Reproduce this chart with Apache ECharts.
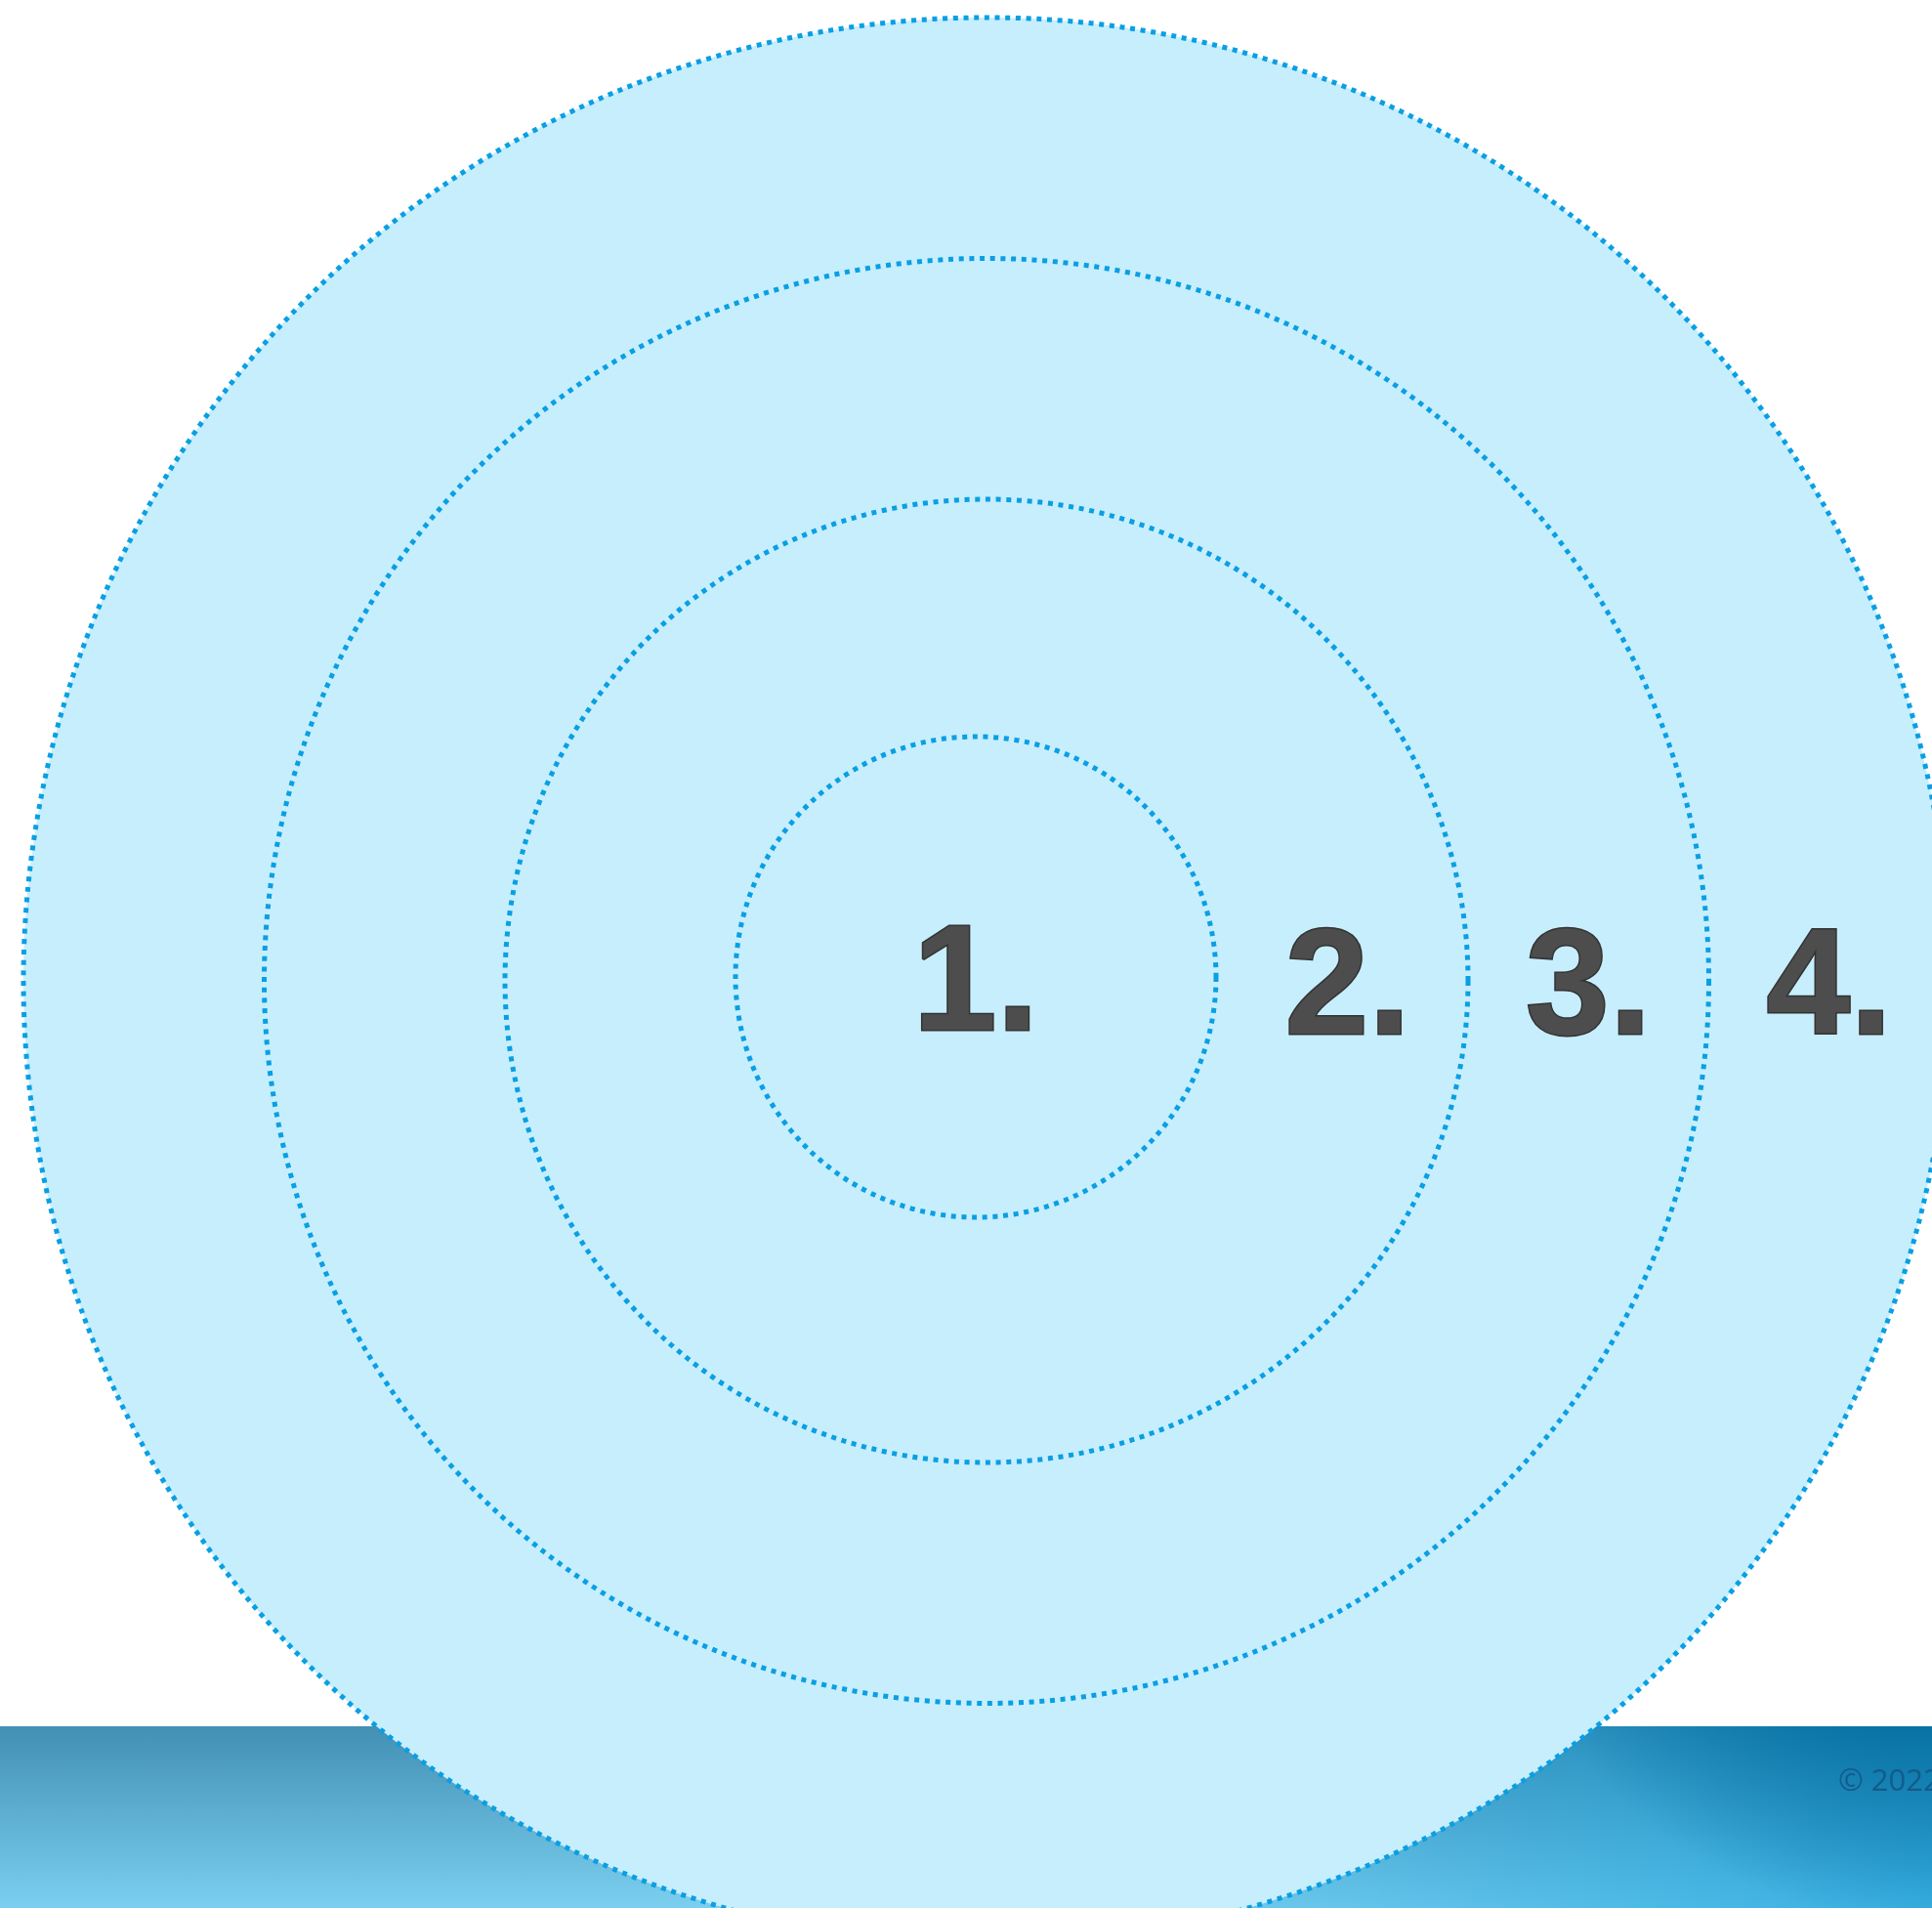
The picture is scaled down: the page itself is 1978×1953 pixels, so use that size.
<!DOCTYPE html>
<html lang="en">
  <head>
    <meta charset="UTF-8" />
    <title>Rings</title>
    <script src="https://cdn.jsdelivr.net/npm/echarts@6/dist/echarts.min.js"></script>
    <style>
      html, body { margin: 0; padding: 0; background: #fff; }
    </style>
  </head>
  <body>
    <div id="chart" style="width: 1978px; height: 1953px"></div>
    <script>
      // ring boundaries (radius units) and the step labels
      const rings = [1, 2, 3, 4];
      const labels = ["1.", "2.", "3.", "4."];
      const labelRadius = [0, 1.5, 2.5, 3.5];
      const copyright = "© 2022";

      const chart = echarts.init(document.getElementById("chart"));

      const dotColor = "#0a9fe2";
      const dotLine = {
        color: dotColor,
        width: 5,
        type: [5, 5.7],
        cap: "butt",
      };

      const hiddenAxis = {
        type: "value",
        min: 0,
        interval: 1,
        axisLine: { show: false },
        axisTick: { show: false },
        axisLabel: { show: false },
      };

      const labelStyle = {
        show: true,
        position: "inside",
        formatter: (p) => p.name,
        fontFamily: "Liberation Sans, sans-serif",
        fontWeight: "bold",
        fontSize: 154,
        color: "#4d4d4d",
        textBorderColor: "#333333",
        textBorderWidth: 3,
        offset: [0, 12],
      };

      // scatter defaults to opacity 0.8, which the labels inherit
      const hiddenPoint = { color: "rgba(0,0,0,0)", opacity: 1 };

      // outer rings: the first ring is drawn by its own (slightly offset) polar
      const outerColors = [0].concat(rings).map((r) =>
        r <= rings[0] ? "rgba(0,0,0,0)" : dotColor
      );

      const band = { x: 0, y: 1767, width: 1978, height: 186 };

      const option = {
        animation: false,
        graphic: [
          {
            type: "rect",
            z: -10,
            shape: band,
            style: {
              fill: new echarts.graphic.LinearGradient(0, 0, 0, 1, [
                { offset: 0, color: "#4290b4" },
                { offset: 1, color: "#7bcfef" },
              ]),
            },
          },
          {
            type: "rect",
            z: -9,
            shape: band,
            style: {
              fill: new echarts.graphic.LinearGradient(0.55, 0, 1, 0, [
                { offset: 0, color: "rgba(0,150,215,0)" },
                { offset: 1, color: "rgba(0,150,215,0.55)" },
              ]),
            },
          },
          {
            type: "rect",
            z: -8,
            shape: band,
            style: {
              fill: new echarts.graphic.RadialGradient(
                1978,
                1500,
                470,
                [
                  { offset: 0.45, color: "rgba(0,100,150,0.9)" },
                  { offset: 1, color: "rgba(0,100,150,0)" },
                ],
                true
              ),
            },
          },
          {
            type: "text",
            z: 100,
            x: 1882,
            y: 1840,
            style: {
              text: copyright,
              fontFamily: "Open Sans",
              fontSize: 31,
              fill: "rgba(20,85,130,0.85)",
              textVerticalAlign: "bottom",
            },
          },
        ],
        polar: [
          { center: [1010, 1004], radius: 986 },
          { center: [999, 1000], radius: 246 },
          { center: [1010, 1004], radius: 986 },
        ],
        angleAxis: [0, 1, 2].map((i) => ({
          polarIndex: i,
          type: "value",
          min: 0,
          max: 360,
          startAngle: 0,
          show: false,
        })),
        radiusAxis: [
          {
            ...hiddenAxis,
            polarIndex: 0,
            max: rings[rings.length - 1],
            z: 3,
            splitLine: {
              show: true,
              lineStyle: { ...dotLine, color: outerColors },
            },
            splitArea: { show: false },
          },
          {
            ...hiddenAxis,
            polarIndex: 1,
            max: rings[0],
            z: 3,
            splitLine: { show: true, lineStyle: dotLine },
            splitArea: { show: false },
          },
          {
            // disc fill underneath
            ...hiddenAxis,
            polarIndex: 2,
            max: rings[rings.length - 1],
            z: 1,
            splitLine: { show: false },
            splitArea: { show: true, areaStyle: { color: ["#c7eefd"] } },
          },
        ],
        series: [
          {
            type: "scatter",
            coordinateSystem: "polar",
            polarIndex: 1,
            z: 5,
            symbolSize: 1,
            itemStyle: hiddenPoint,
            label: labelStyle,
            data: [{ name: labels[0], value: [labelRadius[0], 0] }],
          },
          {
            type: "scatter",
            coordinateSystem: "polar",
            polarIndex: 0,
            z: 5,
            symbolSize: 1,
            itemStyle: hiddenPoint,
            label: labelStyle,
            data: labels.slice(1).map((n, i) => ({
              name: n,
              value: [labelRadius[i + 1], 0],
            })),
          },
        ],
      };

      chart.setOption(option);
    </script>
  </body>
</html>
